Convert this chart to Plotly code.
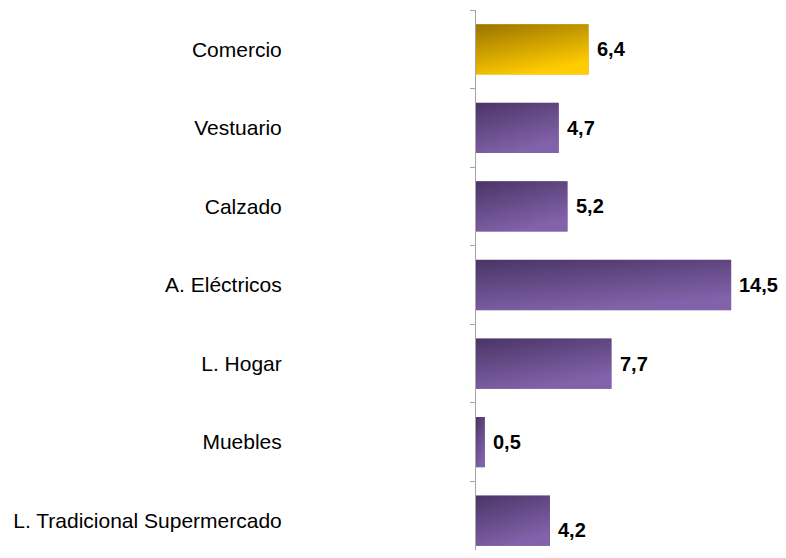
import base64
import plotly.graph_objects as go

# Datos del gráfico
categorias = ["Comercio", "Vestuario", "Calzado", "A. Eléctricos", "L. Hogar", "Muebles",
              "L. Tradicional Supermercado"]
valores = [6.4, 4.7, 5.2, 14.5, 7.7, 0.5, 4.2]
etiquetas = ["6,4", "4,7", "5,2", "14,5", "7,7", "0,5", "4,2"]

# Colores (gradiente: inicio oscuro, fin claro)
grad_oro = ("#9a7200", "#ffcc00")
grad_morado = ("#4a3566", "#8262aa")
BAR_W = 0.64


def svg_gradiente(c1, c2):
    svg = (
        '<svg xmlns="http://www.w3.org/2000/svg" width="100" height="100" '
        'viewBox="0 0 100 100" preserveAspectRatio="none">'
        '<defs><linearGradient id="g" x1="0" y1="0" x2="0.45" y2="1">'
        f'<stop offset="0" stop-color="{c1}"/><stop offset="1" stop-color="{c2}"/>'
        '</linearGradient></defs>'
        '<rect width="100" height="100" fill="url(#g)"/></svg>'
    )
    return "data:image/svg+xml;base64," + base64.b64encode(svg.encode()).decode()


colores_base = ["#d9a400" if c == "Comercio" else "#664c8a" for c in categorias]

fig = go.Figure()
fig.add_trace(go.Bar(
    y=categorias,
    x=valores,
    orientation="h",
    width=BAR_W,
    marker=dict(color=colores_base, line=dict(width=0)),
    hoverinfo="skip",
))

# Gradientes encima de cada barra
imagenes = []
for i, (cat, v) in enumerate(zip(categorias, valores)):
    c1, c2 = grad_oro if cat == "Comercio" else grad_morado
    imagenes.append(dict(
        source=svg_gradiente(c1, c2),
        xref="x", yref="y",
        x=0, y=i,
        sizex=v, sizey=BAR_W,
        xanchor="left", yanchor="middle",
        sizing="stretch",
        layer="above",
    ))

# Etiquetas de valor
anotaciones = []
for i, (v, t) in enumerate(zip(valores, etiquetas)):
    anotaciones.append(dict(
        x=v, y=categorias[i], xref="x", yref="y",
        text=f"<b>{t}</b>", showarrow=False,
        xanchor="left", xshift=6, yshift=-9 if i == len(valores) - 1 else 0,
        font=dict(family="Liberation Sans, Arial", size=20, color="#000000"),
    ))

# la página tiene 8px de margen en el body: el lienzo se ajusta para no generar scroll
fig.update_layout(
    width=770, height=542,
    margin=dict(l=468, r=0, t=2, b=0, autoexpand=False),
    paper_bgcolor="white",
    plot_bgcolor="white",
    showlegend=False,
    bargap=0.36,
    images=imagenes,
    annotations=anotaciones,
    font=dict(family="Liberation Sans, Arial", size=21, color="#000000"),
    xaxis=dict(
        range=[0, 17.16],
        visible=False,
        fixedrange=True,
    ),
    yaxis=dict(
        automargin=False,
        categoryorder="array",
        categoryarray=categorias,
        range=[6.373, -0.5],
        showline=True,
        linecolor="#a6a6a6",
        linewidth=1,
        ticks="outside",
        tickson="boundaries",
        ticklen=5,
        tickcolor="#a6a6a6",
        ticklabelstandoff=189,
        showgrid=False,
        zeroline=False,
        tickfont=dict(family="Liberation Sans, Arial", size=21, color="#000000"),
    ),
)

fig.write_html("out.html")
